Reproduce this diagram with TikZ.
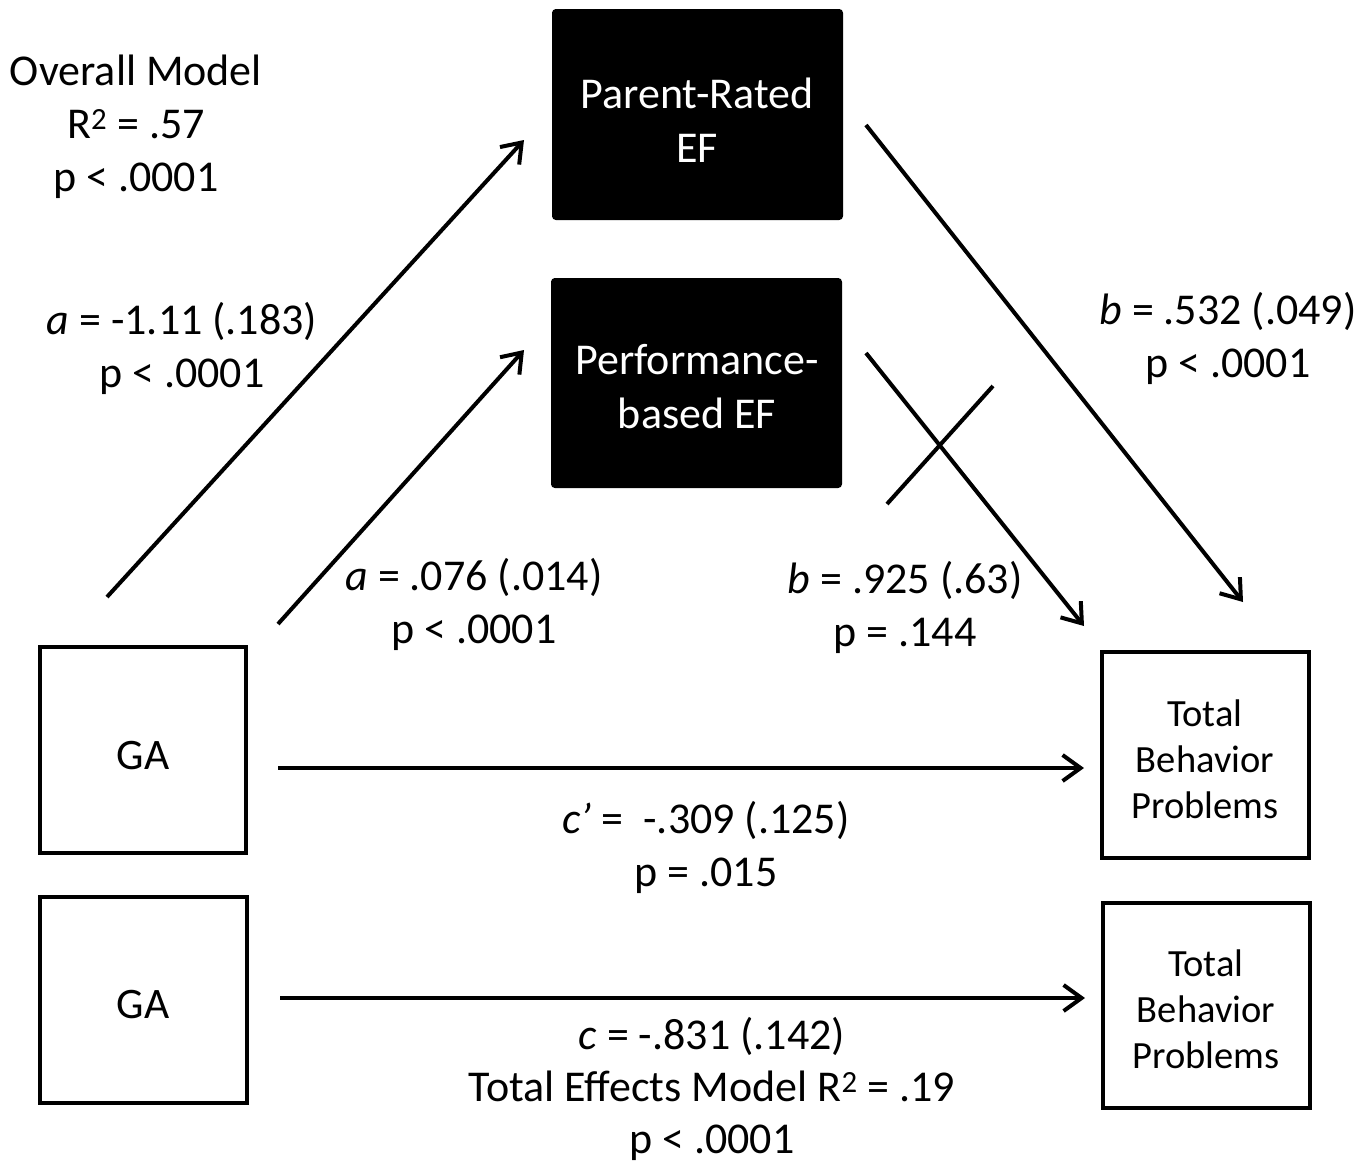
\documentclass[tikz,border=0pt]{standalone}
\usepackage{fontspec}
\setmainfont{Carlito}
\usetikzlibrary{arrows.meta}
\begin{document}
\begin{tikzpicture}[x=1pt,y=-1pt,
  lbl/.style={align=center,font=\fontsize{44}{53}\selectfont,inner sep=0pt},
  blackbox/.style={draw=black,fill=black,rounded corners=3pt,line width=2pt},
  whitebox/.style={draw=black,line width=4.2pt},
  boxtxt/.style={align=center,text=white,font=\fontsize{44}{54}\selectfont,inner sep=0pt},
  tbptxt/.style={align=center,font=\fontsize{38.5}{46}\selectfont,inner sep=0pt},
  gatxt/.style={font=\fontsize{43.5}{46}\selectfont,inner sep=0pt},
  arr/.style={line width=4pt,-{Straight Barb[length=18pt,width=26pt,line width=4pt]}},
  plain/.style={line width=4pt}]
\useasboundingbox (0,0) rectangle (1371,1165);
% boxes
\draw[blackbox] (553,10) rectangle (842,219);
\node[boxtxt] (pr) at (697,120) {Parent-Rated\\EF};
\draw[blackbox] (552,279) rectangle (841,487);
\node[boxtxt] (pb) at (697,387) {Performance-\\based EF};
\draw[whitebox] (40,647) rectangle (246,853);
\node[gatxt] (ga1) at (143,756) {GA};
\draw[whitebox] (40,897) rectangle (247,1103);
\node[gatxt] (ga2) at (143,1005) {GA};
\draw[whitebox] (1102,652) rectangle (1309,858);
\node[tbptxt] (tbp1) at (1205,759) {Total\\Behavior\\Problems};
\draw[whitebox] (1103,903) rectangle (1310,1108);
\node[tbptxt] (tbp2) at (1206,1009) {Total\\Behavior\\Problems};
% connector endpoints
\coordinate (a1s) at (107,597); \coordinate (a1e) at (524,140);
\coordinate (a2s) at (278,624); \coordinate (a2e) at (524,350);
\coordinate (b1s) at (866,125); \coordinate (b1e) at (1243,602);
\coordinate (b2s) at (866,353); \coordinate (b2e) at (1084,626);
\coordinate (xs) at (887,504); \coordinate (xe) at (993,386);
\coordinate (cps) at (278,768); \coordinate (cpe) at (1084,768);
\coordinate (cs) at (280,998); \coordinate (ce) at (1085,998);
\draw[arr] (a1s) -- (a1e);
\draw[arr] (a2s) -- (a2e);
\draw[arr] (b1s) -- (b1e);
\draw[arr] (b2s) -- (b2e);
\draw[plain] (xs) -- (xe);
\draw[arr] (cps) -- (cpe);
\draw[arr] (cs) -- (ce);
% labels
\node[lbl] (om) at (136,127) {Overall Model\\R\textsuperscript{2} = .57\\p < .0001};
\node[lbl] (la1) at (182,348) {\textit{a} = -1.11 (.183)\\p < .0001};
\node[lbl] (la2) at (474,604) {\textit{a} = .076 (.014)\\p < .0001};
\node[lbl] (lb2) at (905,607) {\textit{b} = .925 (.63)\\p = .144};
\node[lbl] (lb1) at (1228,338) {\textit{b} = .532 (.049)\\p < .0001};
\node[lbl] (lcp) at (706,847) {\textit{c’} =\ \ -.309 (.125)\\p = .015};
\node[lbl,font=\fontsize{44}{52}\selectfont] (lc) at (712,1089) {\textit{c} = -.831 (.142)\\Total Effects Model R\textsuperscript{2} = .19\\p < .0001};
\end{tikzpicture}
\end{document}
